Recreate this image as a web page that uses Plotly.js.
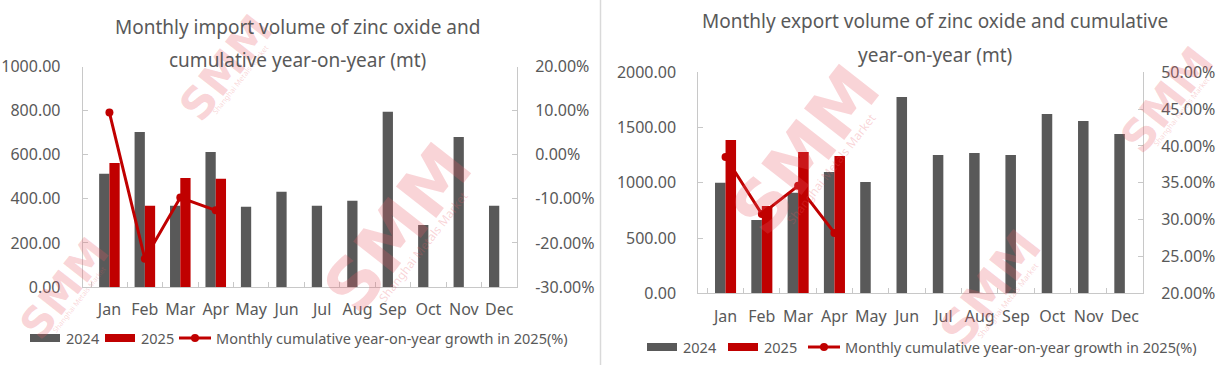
<!DOCTYPE html>
<html>
<head>
<meta charset="utf-8">
<script src="https://cdn.plot.ly/plotly-3.0.1.min.js"></script>
<style>html,body{margin:0;padding:0;background:#fff;}#chart{width:1230px;height:365px;}</style>
</head>
<body>
<div id="chart"></div>
<script>
// ---- data ----
const months = ['Jan','Feb','Mar','Apr','May','Jun','Jul','Aug','Sep','Oct','Nov','Dec'];
const seriesNames = ['2024','2025','Monthly cumulative year-on-year growth in 2025(%)'];
const import2024 = [514,704,369,613,364,432,369,391,795,282,681,369];
const import2025 = [563,369,495,491];
const importYoY = [9.58,-23.6,-9.7,-12.6];
const export2024 = [1000,664,911,1098,1008,1777,1252,1270,1252,1623,1560,1442];
const export2025 = [1388,790,1279,1243];
const exportYoY = [38.5,30.77,34.6,28.2];
const importTitle = ['Monthly import volume of zinc oxide and','cumulative year-on-year (mt)'];
const exportTitle = ['Monthly export volume of zinc oxide and cumulative','year-on-year (mt)'];
const importPctTicks = [-30,-20,-10,0,10,20];
const importPctLabels = ['-30.00%','-20.00%','-10.00%','0.00%','10.00%','20.00%'];
const exportPctTicks = [20,25,30,35,40,45,50];
const exportPctLabels = ['20.00%','25.00%','30.00%','35.00%','40.00%','45.00%','50.00%'];

// ---- style helpers ----
const W = 1230, H = 365;
const px = x => x / W;
const py = y => 1 - y / H;
const GREY = '#595959', RED = '#C00000', TXT = '#595959', AX = '#C8C8C8';
const FONT = 'Noto Sans, Open Sans, sans-serif';

const traces = [
  {type:'bar', x:months, y:import2024, name:seriesNames[0], xaxis:'x', yaxis:'y', marker:{color:GREY}},
  {type:'bar', x:months.slice(0, import2025.length), y:import2025, name:seriesNames[1], xaxis:'x', yaxis:'y', marker:{color:RED}},
  {type:'scatter', mode:'lines+markers', x:months.slice(0, importYoY.length), y:importYoY, name:seriesNames[2], xaxis:'x', yaxis:'y3',
    line:{color:RED, width:3}, marker:{color:RED, size:8}},
  {type:'bar', x:months, y:export2024, name:seriesNames[0], xaxis:'x2', yaxis:'y2', marker:{color:GREY}},
  {type:'bar', x:months.slice(0, export2025.length), y:export2025, name:seriesNames[1], xaxis:'x2', yaxis:'y2', marker:{color:RED}},
  {type:'scatter', mode:'lines+markers', x:months.slice(0, exportYoY.length), y:exportYoY, name:seriesNames[2], xaxis:'x2', yaxis:'y4',
    line:{color:RED, width:3}, marker:{color:RED, size:8}}
];

const tickFont = {family:FONT, size:16, color:TXT};
function xAx(domain, anchor){
  return {domain:domain, anchor:anchor, type:'category', tickson:'boundaries', ticks:'inside', ticklen:5, tickcolor:AX, tickangle:0,
    showline:true, linecolor:AX, linewidth:1, showgrid:false, zeroline:false, tickfont:tickFont, ticklabelstandoff:8, fixedrange:true};
}
function yAx(domain, anchor, range, dtick){
  return {domain:domain, anchor:anchor, range:range, dtick:dtick, tick0:0, tickformat:'.2f', ticks:'inside', ticklen:5, tickcolor:AX,
    showline:true, linecolor:AX, linewidth:1, showgrid:false, zeroline:false, tickfont:tickFont, ticklabelstandoff:18, fixedrange:true};
}
function yPct(overlay, anchor, range, vals, labels){
  return {overlaying:overlay, anchor:anchor, side:'right', range:range, tickmode:'array', tickvals:vals, ticktext:labels,
    ticks:'inside', ticklen:5, tickcolor:AX, showline:true, linecolor:AX, linewidth:1, showgrid:false, zeroline:false,
    tickfont:tickFont, ticklabelstandoff:14, fixedrange:true};
}

const annotations = [];
const shapes = [];
function txt(x, y, text, size, anchor, extra){
  annotations.push(Object.assign({xref:'paper', yref:'paper', x:px(x), y:py(y), text:text, showarrow:false,
    xanchor:anchor || 'center', yanchor:'middle', font:{family:FONT, size:size, color:TXT}}, extra || {}));
}

// watermarks (drawn first so real texts sit above them)
function mark(x, y, size){
  annotations.push({xref:'paper', yref:'paper', x:px(x), y:py(y), xanchor:'center', yanchor:'middle', text:'<b>SMM</b>', showarrow:false, textangle:-52,
    font:{family:'DejaVu Sans, sans-serif', size:size, color:'rgba(232,90,100,0.26)'}});
  annotations.push({xref:'paper', yref:'paper', x:px(x + size*0.36), y:py(y + size*0.26), xanchor:'center', yanchor:'middle', text:'Shanghai Metals Market', showarrow:false, textangle:-52,
    font:{family:FONT, size:size*0.17, color:'rgba(232,90,100,0.26)'}});
}
mark(225, 68, 44);
mark(398, 228, 70);
mark(64, 288, 42);
mark(806, 150, 70);
mark(1166, 100, 44);
mark(990, 288, 48);

// titles
txt(297.5, 27, importTitle[0], 19);
txt(297.5, 60, importTitle[1], 19);
txt(935, 21, exportTitle[0], 19);
txt(935, 55, exportTitle[1], 19);

// legends
function legend(yc, xs){
  shapes.push({type:'rect', xref:'paper', yref:'paper', x0:px(xs[0]), x1:px(xs[0]+30), y0:py(yc+4), y1:py(yc-4), fillcolor:GREY, line:{width:0}});
  txt(xs[0]+34, yc, seriesNames[0], 14.5, 'left');
  shapes.push({type:'rect', xref:'paper', yref:'paper', x0:px(xs[1]), x1:px(xs[1]+30), y0:py(yc+4), y1:py(yc-4), fillcolor:RED, line:{width:0}});
  txt(xs[1]+34, yc, seriesNames[1], 14.5, 'left');
  shapes.push({type:'line', xref:'paper', yref:'paper', x0:px(xs[2]), x1:px(xs[2]+32), y0:py(yc), y1:py(yc), line:{color:RED, width:3}});
  shapes.push({type:'circle', xref:'paper', yref:'paper', x0:px(xs[2]+12), x1:px(xs[2]+20), y0:py(yc+4), y1:py(yc-4), fillcolor:RED, line:{width:0}});
  txt(xs[2]+35, yc, seriesNames[2], 14.5, 'left');
}
legend(338, [30, 105, 179]);
legend(347, [647, 728, 808]);

// separator
shapes.push({type:'line', xref:'paper', yref:'paper', x0:px(600.5), x1:px(600.5), y0:0, y1:1, line:{color:'#D9D9D9', width:1.5}});

const layout = {
  width:W, height:H, margin:{l:0, r:0, t:0, b:0}, paper_bgcolor:'#fff', plot_bgcolor:'rgba(0,0,0,0)',
  showlegend:false, barmode:'group', bargap:0.42, bargroupgap:0,
  font:{family:FONT, color:TXT},
  xaxis: xAx([px(82.7), px(517)], 'y'),
  yaxis: yAx([py(287), py(66.7)], 'x', [0,1000], 200),
  yaxis3: yPct('y', 'x', [-30,20], importPctTicks, importPctLabels),
  xaxis2: xAx([px(698.3), px(1143)], 'y2'),
  yaxis2: yAx([py(293.3), py(72.3)], 'x2', [0,2000], 500),
  yaxis4: yPct('y2', 'x2', [20,50], exportPctTicks, exportPctLabels),
  annotations: annotations, shapes: shapes
};
Plotly.newPlot('chart', traces, layout, {displayModeBar:false, staticPlot:true});
</script>
</body>
</html>
